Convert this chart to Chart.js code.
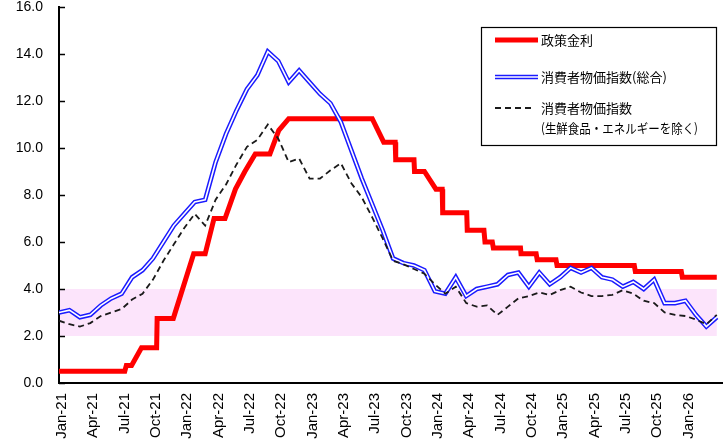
<!DOCTYPE html>
<html>
<head>
<meta charset="utf-8">
<script src="https://cdn.jsdelivr.net/npm/chart.js@4/dist/chart.umd.min.js"></script>
<style>
  html, body { margin: 0; padding: 0; background: #fff; }
  #wrap { position: relative; width: 725px; height: 444px; }
</style>
</head>
<body>
<div id="wrap"><canvas id="c" width="725" height="444"></canvas></div>
<script>
// Quarterly tick labels (one every 3 months, starting at month index 0)
const monthLabels = [
  'Jan-21','Apr-21','Jul-21','Oct-21','Jan-22','Apr-22','Jul-22','Oct-22',
  'Jan-23','Apr-23','Jul-23','Oct-23','Jan-24','Apr-24','Jul-24','Oct-24',
  'Jan-25','Apr-25','Jul-25','Oct-25','Jan-26'
];

// Headline CPI, y/y %, monthly
const headlineCPI = [
  3.0, 3.1, 2.8, 2.9, 3.3, 3.6, 3.8, 4.5, 4.8, 5.3,
  6.0, 6.7, 7.2, 7.7, 7.8, 9.4, 10.6, 11.6, 12.5, 13.1,
  14.1, 13.7, 12.8, 13.3, 12.8, 12.3, 11.9, 11.1, 9.9, 8.7,
  7.6, 6.5, 5.3, 5.1, 5.0, 4.8, 3.9, 3.8, 4.5, 3.7,
  4.0, 4.1, 4.2, 4.6, 4.7, 4.1, 4.7, 4.2, 4.5, 4.9,
  4.7, 4.9, 4.5, 4.4, 4.1, 4.3, 4.0, 4.4, 3.4, 3.4,
  3.5, 2.9, 2.4, 2.8
];

// CPI excluding fresh food and energy, y/y %, monthly
const coreCPI = [
  2.65, 2.5, 2.4, 2.55, 2.85, 3.0, 3.15, 3.55, 3.8, 4.4,
  5.2, 5.9, 6.6, 7.2, 6.7, 7.8, 8.45, 9.3, 10.05, 10.35,
  11.0, 10.4, 9.4, 9.55, 8.7, 8.7, 9.05, 9.35, 8.5, 7.9,
  7.05, 6.15, 5.2, 5.05, 4.85, 4.65, 4.2, 3.8, 4.1, 3.4,
  3.25, 3.3, 2.9, 3.25, 3.6, 3.7, 3.85, 3.75, 3.95, 4.1,
  3.85, 3.7, 3.7, 3.75, 3.95, 3.8, 3.5, 3.4, 3.0, 2.9,
  2.85, 2.7, 2.5, 2.9
];

// Policy rate, % : [month index (fractional = within the month), rate]
const policyRate = [
  [0, 0.5], [6.3, 0.5], [6.45, 0.75], [6.95, 0.75], [7.9, 1.5], [9.35, 1.5],
  [9.4, 2.75], [10.95, 2.75], [12.9, 5.5], [14.0, 5.5], [14.85, 7.0], [15.9, 7.0],
  [16.9, 8.25], [17.8, 9.0], [18.8, 9.75], [20.2, 9.75], [21.05, 10.75], [22.0, 11.25],
  [30.0, 11.25], [31.1, 10.25], [32.2, 10.25], [32.25, 9.5], [34.0, 9.5], [34.05, 9.0],
  [35.0, 9.0], [36.1, 8.25], [36.7, 8.25], [36.75, 7.25], [39.05, 7.25], [39.1, 6.5],
  [40.7, 6.5], [40.8, 6.0], [41.5, 6.0], [41.6, 5.75], [44.2, 5.75], [44.25, 5.5],
  [45.7, 5.5], [45.8, 5.25], [47.6, 5.25], [47.7, 5.0], [55.1, 5.0], [55.2, 4.75],
  [59.6, 4.75], [59.7, 4.5], [63, 4.5]
];

// Inflation target range, %
const targetBand = [2.0, 4.0];

const seriesNames = ['政策金利', '消費者物価指数(総合)', '消費者物価指数', '(生鮮食品・エネルギーを除く)'];

const NUM_FONT = '"Liberation Sans Narrow", "Arial Narrow", "Liberation Sans", Arial, sans-serif';
const JP_FONT = '"Noto Sans CJK JP", "Noto Sans CJK SC", sans-serif';

const RED = '#ff0000';
const BLUE = '#1a1aff';
const DASH = '#1a1a1a';

const decor = {
  id: 'decor',
  beforeDraw(chart) {
    const { ctx, scales: { x, y } } = chart;
    const x0 = x.getPixelForValue(0) + 1;
    const x1 = x.getPixelForValue(headlineCPI.length - 1);
    const yT = y.getPixelForValue(targetBand[1]);
    const yB = y.getPixelForValue(targetBand[0]);
    ctx.save();
    ctx.fillStyle = '#fce4fb';
    ctx.fillRect(x0, yT, x1 - x0, yB - yT);
    ctx.restore();
  },
  afterDraw(chart) {
    const { ctx, scales: { x, y } } = chart;
    ctx.save();
    // inside tick marks on the value axis
    ctx.strokeStyle = '#000';
    ctx.lineWidth = 1.5;
    y.ticks.forEach(t => {
      const py = Math.round(y.getPixelForValue(t.value)) + 0.5;
      ctx.beginPath();
      ctx.moveTo(x.left, py);
      ctx.lineTo(x.left + 6, py);
      ctx.stroke();
    });

    // legend box
    const L = 481, T = 27, R = 716, B = 145;
    ctx.fillStyle = '#fff';
    ctx.fillRect(L, T, R - L, B - T);
    ctx.strokeStyle = '#000';
    ctx.lineWidth = 1.2;
    ctx.strokeRect(L + 0.5, T + 0.5, R - L, B - T);

    const sx0 = 495, sx1 = 538, tx = 541;
    const rows = [40, 77, 108, 128];

    ctx.lineCap = 'butt';
    // policy rate sample
    ctx.strokeStyle = RED; ctx.lineWidth = 5;
    ctx.beginPath(); ctx.moveTo(sx0, rows[0]); ctx.lineTo(sx1, rows[0]); ctx.stroke();
    // headline CPI sample (double line)
    ctx.strokeStyle = BLUE; ctx.lineWidth = 4.5;
    ctx.beginPath(); ctx.moveTo(sx0, rows[1]); ctx.lineTo(sx1, rows[1]); ctx.stroke();
    ctx.strokeStyle = '#fff'; ctx.lineWidth = 1.6;
    ctx.beginPath(); ctx.moveTo(sx0, rows[1]); ctx.lineTo(sx1, rows[1]); ctx.stroke();
    // core CPI sample
    ctx.strokeStyle = DASH; ctx.lineWidth = 1.8; ctx.setLineDash([6, 4]);
    ctx.beginPath(); ctx.moveTo(sx0, rows[2]); ctx.lineTo(sx1 - 3, rows[2]); ctx.stroke();
    ctx.setLineDash([]);

    ctx.fillStyle = '#000';
    ctx.font = '13px ' + JP_FONT;
    ctx.textBaseline = 'middle';
    ctx.textAlign = 'left';
    ctx.fillText(seriesNames[0], tx, rows[0]);
    ctx.fillText(seriesNames[1], tx, rows[1], 128);
    ctx.fillText(seriesNames[2], tx, rows[2]);
    ctx.fillText(seriesNames[3], tx, rows[3], 157);
    ctx.restore();
  }
};

const idxPoints = arr => arr.map((v, i) => ({ x: i, y: v }));

new Chart(document.getElementById('c'), {
  type: 'line',
  data: {
    datasets: [
      {
        label: seriesNames[2],
        data: idxPoints(coreCPI),
        borderColor: DASH, borderWidth: 1.8, borderDash: [6, 4],
        pointRadius: 0, tension: 0, fill: false, order: 0
      },
      {
        label: 'core',
        data: idxPoints(headlineCPI),
        borderColor: '#ffffff', borderWidth: 1.6,
        pointRadius: 0, tension: 0, fill: false, order: 1
      },
      {
        label: seriesNames[1],
        data: idxPoints(headlineCPI),
        borderColor: BLUE, borderWidth: 4.6,
        pointRadius: 0, tension: 0, fill: false, order: 2
      },
      {
        label: seriesNames[0],
        data: policyRate.map(([m, v]) => ({ x: m, y: v })),
        borderColor: RED, borderWidth: 5, borderJoinStyle: 'miter',
        pointRadius: 0, tension: 0, fill: false, order: 3
      }
    ]
  },
  options: {
    responsive: false,
    animation: false,
    devicePixelRatio: 1,
    layout: { padding: { top: 7, right: 3, left: 0, bottom: 0 } },
    plugins: { legend: { display: false }, tooltip: { enabled: false }, title: { display: false } },
    scales: {
      x: {
        type: 'linear',
        min: 0, max: 63.5,
        afterFit(scale) {
          scale.height = 61;
          scale.paddingLeft = 0; scale.paddingRight = 0;
          scale.paddingTop = 0; scale.paddingBottom = 0;
        },
        grid: { display: false, drawTicks: false },
        border: { display: true, color: '#000', width: 2 },
        ticks: {
          stepSize: 3,
          autoSkip: false,
          minRotation: 90, maxRotation: 90,
          padding: 10,
          labelOffset: 3,
          color: '#000',
          font: { family: NUM_FONT, size: 15 },
          callback(v) {
            const k = v / 3;
            return Number.isInteger(k) && k < monthLabels.length ? monthLabels[k] : '';
          }
        }
      },
      y: {
        min: 0, max: 16,
        afterFit(scale) {
          scale.width = 59;
          scale.paddingLeft = 0; scale.paddingRight = 0;
          scale.paddingTop = 0; scale.paddingBottom = 0;
        },
        grid: { display: false, drawTicks: false },
        border: { display: true, color: '#000', width: 2 },
        ticks: {
          stepSize: 2,
          padding: 16,
          color: '#000',
          font: { family: NUM_FONT, size: 14 },
          callback(v) { return Number(v).toFixed(1); }
        }
      }
    }
  },
  plugins: [decor]
});
</script>
</body>
</html>
